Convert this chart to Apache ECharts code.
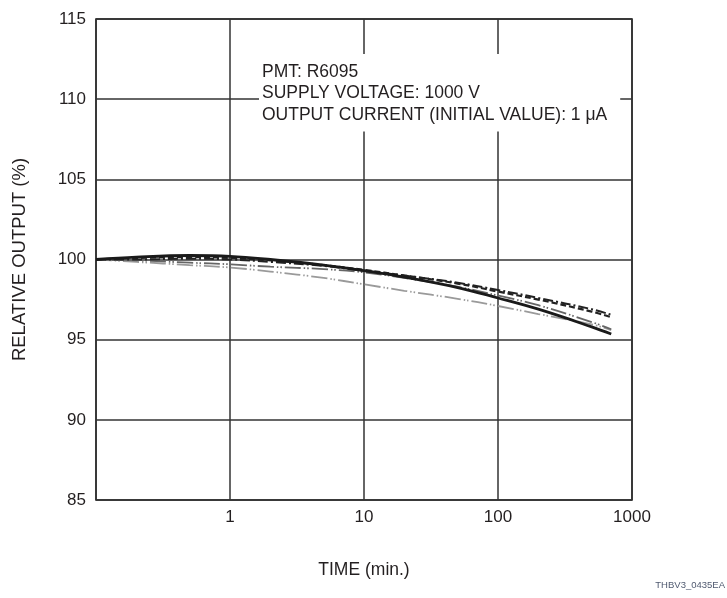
<!DOCTYPE html>
<html lang="en">
<head>
    <meta charset="UTF-8">
    <script src="https://cdn.jsdelivr.net/npm/echarts@6/dist/echarts.min.js"></script>
    <title>Relative output vs time</title>
    <style type="text/css">
        html, body { margin: 0; padding: 0; background: #fff; }
        #chart { width: 727px; height: 598px; }
    </style>
</head>
<body>
<div id="chart"></div>
<script type="text/javascript">
    // time axis (min.)
    const times = [0.1, 0.2, 0.5, 1, 2, 5, 10, 20, 50, 100, 200, 500, 700];
    // relative output (%) for each curve
    const solidLine = [100, 100.15, 100.25, 100.2, 100.0, 99.65, 99.3, 98.9, 98.25, 97.6, 96.9, 95.8, 95.35];
    const dashedLine = [100, 100.1, 100.15, 100.1, 99.95, 99.65, 99.35, 99.0, 98.5, 98.0, 97.5, 96.75, 96.4];
    const dashDotLine = [100, 100.0, 100.05, 100.0, 99.85, 99.6, 99.3, 99.0, 98.55, 98.1, 97.6, 96.9, 96.55];
    const darkGrayLine = [100, 99.95, 99.8, 99.7, 99.55, 99.4, 99.2, 98.85, 98.3, 97.75, 97.15, 96.1, 95.65];
    const lightGrayLine = [100, 99.85, 99.65, 99.5, 99.25, 98.85, 98.45, 98.05, 97.55, 97.1, 96.6, 95.95, 95.6];
    const xTickLabels = ['1', '10', '100', '1000'];
    const yTicks = [85, 90, 95, 100, 105, 110, 115];

    const noteLines = ['PMT: R6095', 'SUPPLY VOLTAGE: 1000 V', 'OUTPUT CURRENT (INITIAL VALUE): 1 \u03bcA'];

    function pairs(ys) {
        const out = [];
        for (let i = 0; i < times.length; i++) {
            out.push([times[i], ys[i]]);
        }
        return out;
    }

    function makeSeries(ys, color, width, dash, z) {
        return {
            type: 'line',
            data: pairs(ys),
            smooth: 0.4,
            showSymbol: false,
            z: z,
            lineStyle: { color: color, width: width, type: dash }
        };
    }

    const myChart = echarts.init(document.getElementById('chart'));
    const font = 'Liberation Sans, Arial, sans-serif';
    const ink = '#231f20';

    const option = {
        animation: false,
        backgroundColor: '#fff',
        textStyle: { fontFamily: font },
        title: {
            text: noteLines.join('\n'),
            left: 259,
            top: 54,
            padding: [7, 13, 6, 3],
            backgroundColor: '#fff',
            textStyle: { fontSize: 17.5, fontWeight: 'normal', color: ink, lineHeight: 21.5, fontFamily: font }
        },
        grid: {
            left: 96, top: 19, width: 536, height: 481,
            show: true, borderColor: '#111', borderWidth: 1.5, backgroundColor: 'transparent'
        },
        xAxis: {
            type: 'log',
            logBase: 10,
            min: 0.1,
            max: 1000,
            name: 'TIME (min.)',
            nameLocation: 'middle',
            nameGap: 61,
            nameTextStyle: { fontSize: 17.5, color: ink },
            axisLine: { show: false },
            axisTick: { show: false },
            axisLabel: {
                fontSize: 17, color: ink, margin: 9,
                formatter: function (v) {
                    const s = String(Math.round(v));
                    return xTickLabels.indexOf(s) >= 0 && v >= 1 ? s : '';
                }
            },
            splitLine: { show: true, lineStyle: { color: '#333', width: 1.5 } },
            minorSplitLine: { show: false }
        },
        yAxis: {
            type: 'value',
            min: yTicks[0],
            max: yTicks[yTicks.length - 1],
            interval: 5,
            name: 'RELATIVE OUTPUT (%)',
            nameLocation: 'middle',
            nameGap: 67,
            nameRotate: 90,
            nameTextStyle: { fontSize: 18.5, color: ink },
            axisLine: { show: false },
            axisTick: { show: false },
            axisLabel: { fontSize: 17, color: ink, margin: 10 },
            splitLine: { show: true, lineStyle: { color: '#333', width: 1.5 } }
        },
        graphic: [{
            type: 'text',
            right: 2,
            bottom: 8,
            style: { text: 'THBV3_0435EA', fontSize: 9.5, fill: '#505a70', fontFamily: font }
        }],
        series: [
            makeSeries(lightGrayLine, '#9a9a9a', 1.8, [16, 3, 1.5, 2, 1.5, 3], 2),
            makeSeries(darkGrayLine, '#666', 1.8, [16, 3, 1.5, 2, 1.5, 3], 3),
            makeSeries(dashDotLine, '#222', 2, [10, 3, 2, 3], 4),
            makeSeries(dashedLine, '#222', 2.2, [6, 3], 5),
            makeSeries(solidLine, '#1a1a1a', 2.8, 'solid', 6)
        ]
    };

    myChart.setOption(option);
</script>
</body>
</html>
